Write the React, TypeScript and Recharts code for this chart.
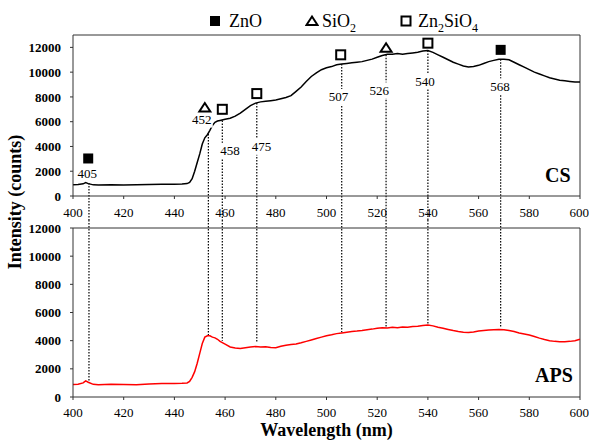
import {
  ComposedChart,
  Line,
  Scatter,
  XAxis,
  YAxis,
  ReferenceLine,
} from 'recharts'

// wavelength (nm) and photoluminescence counts for the two coatings
const wavelengths = [
  400, 402, 404, 405, 406, 408, 410, 415, 420, 425, 430, 435, 440, 443, 445, 446, 447, 448, 449, 450,
  451, 452, 453, 454, 455, 456, 457, 458, 460, 462, 464, 466, 468, 470, 472, 474, 476, 478, 480, 482,
  484, 486, 488, 490, 492, 494, 496, 498, 500, 502, 504, 506, 508, 510, 512, 514, 516, 518, 520, 522,
  524, 526, 528, 530, 532, 534, 536, 538, 540, 542, 544, 546, 548, 550, 552, 554, 556, 558, 560, 562,
  564, 566, 568, 570, 572, 574, 576, 578, 580, 582, 584, 586, 588, 590, 592, 594, 596, 598, 600,
]
const csCounts = [
  900, 920, 980, 1080, 1000, 900, 880, 900, 890, 900, 920, 940, 950, 960, 1000, 1100, 1400, 2000, 2700, 3400,
  4200, 4700, 4950, 5300, 5700, 5950, 6050, 6100, 6200, 6280, 6450, 6700, 7000, 7300, 7500, 7600, 7650, 7700, 7750, 7850,
  7950, 8100, 8450, 8800, 9250, 9650, 9950, 10200, 10350, 10450, 10600, 10650, 10700, 10750, 10800, 10850, 10950, 11050, 11200, 11350,
  11450, 11450, 11500, 11450, 11500, 11550, 11600, 11700, 11750, 11600, 11400, 11200, 11000, 10800, 10650, 10500, 10420, 10450, 10550, 10700,
  10850, 10950, 11050, 11050, 11000, 10800, 10600, 10400, 10200, 10000, 9850, 9700, 9550, 9450, 9350, 9300, 9250, 9200, 9200,
]
const apsCounts = [
  880, 900, 1000, 1150, 1050, 900, 870, 900, 880, 870, 930, 950, 950, 970, 1000, 1100, 1400, 1800, 2400, 3100,
  3800, 4250, 4350, 4350, 4250, 4200, 4100, 3950, 3750, 3550, 3480, 3450, 3500, 3550, 3580, 3550, 3570, 3520, 3500, 3600,
  3680, 3720, 3760, 3850, 3950, 4050, 4150, 4250, 4350, 4420, 4500, 4550, 4600, 4650, 4680, 4720, 4780, 4820, 4880, 4920,
  4900, 4950, 4920, 4970, 4950, 5000, 5020, 5080, 5120, 5050, 4950, 4880, 4800, 4720, 4650, 4600, 4580, 4620, 4680, 4720,
  4760, 4780, 4800, 4780, 4720, 4650, 4550, 4480, 4400, 4300, 4180, 4080, 4000, 3950, 3930, 3920, 3950, 4000, 4100,
]

// assigned emission peaks
const peakLabels = ['405', '452', '458', '475', '507', '526', '540', '568']
const peakLineWl = [406.3, 453.4, 458.9, 472.5, 506, 523.5, 540, 568.7]
const peakCsStart = [1050, 5000, 6100, 7500, 10650, 11400, 11750, 11050]
const peakApsEnd = [1150, 4400, 4000, 3900, 4600, 4900, 5100, 4900]
const labelWl = [405.6, 450.8, 461.9, 474.4, 504.7, 520.8, 538.9, 568.4]
const labelCounts = [1850, 6170, 3650, 3970, 8000, 8530, 9280, 8850]

// phase markers above the CS curve
const markerPhase = ['ZnO', 'SiO2', 'Zn2SiO4', 'Zn2SiO4', 'Zn2SiO4', 'SiO2', 'Zn2SiO4', 'ZnO']
const markerWl = [406, 452, 458.9, 472.5, 505.6, 523.5, 540, 568.7]
const markerCounts = [3030, 7140, 7000, 8270, 11400, 11970, 12340, 11800]

const wlTicks = [400, 420, 440, 460, 480, 500, 520, 540, 560, 580, 600]
const topTicks = [0, 2000, 4000, 6000, 8000, 10000, 12000]

const serif = 'Liberation Serif, serif'
const axisColor = '#333'

const spectrum = wavelengths.map((wl, i) => ({ wl, cs: csCounts[i], aps: apsCounts[i] }))
const markers = markerWl.map((wl, i) => ({ wl, counts: markerCounts[i], phase: markerPhase[i] }))
const labels = labelWl.map((wl, i) => ({ wl, counts: labelCounts[i], text: peakLabels[i] }))

function PhaseIcon({ phase, cx, cy }: { phase: string; cx: number; cy: number }) {
  if (phase === 'ZnO') return <rect x={cx - 5} y={cy - 5} width={10} height={10} fill="#000" />
  if (phase === 'SiO2')
    return (
      <polygon
        points={`${cx - 5.5},${cy + 4} ${cx + 5.5},${cy + 4} ${cx},${cy - 4.5}`}
        fill="#fff"
        stroke="#000"
        strokeWidth={2}
      />
    )
  return <rect x={cx - 4.5} y={cy - 4.5} width={9} height={9} fill="#fff" stroke="#000" strokeWidth={2} />
}

const tickStyle = { fill: '#000', fontSize: 13, style: { fontFamily: serif } }
const yTickStyle = { fill: '#000', fontSize: 13, fontWeight: 'bold' as const, style: { fontFamily: serif } }

function LegendItem({ phase, x, textX, children }: { phase: string; x: number; textX: number; children: React.ReactNode }) {
  return (
    <>
      <svg width={14} height={14} style={{ position: 'absolute', left: x - 7, top: 14 }}>
        <PhaseIcon phase={phase} cx={7} cy={7} />
      </svg>
      <span style={{ position: 'absolute', left: textX, top: 10, fontSize: 18, lineHeight: '22px', whiteSpace: 'nowrap' }}>
        {children}
      </span>
    </>
  )
}

export default function App() {
  return (
    <div style={{ position: 'absolute', left: 0, top: 0, width: 589, height: 441, background: '#fff', fontFamily: serif, color: '#000' }}>
      <LegendItem phase="ZnO" x={215} textX={229}>ZnO</LegendItem>
      <LegendItem phase="SiO2" x={312} textX={322}>
        SiO<sub style={{ fontSize: 12 }}>2</sub>
      </LegendItem>
      <LegendItem phase="Zn2SiO4" x={406} textX={418}>
        Zn<sub style={{ fontSize: 12 }}>2</sub>SiO<sub style={{ fontSize: 12 }}>4</sub>
      </LegendItem>

      <div
        style={{
          position: 'absolute',
          left: 15,
          top: 202,
          transform: 'translate(-50%, -50%) rotate(-90deg)',
          fontSize: 18,
          fontWeight: 'bold',
          whiteSpace: 'nowrap',
        }}
      >
        Intensity (counts)
      </div>

      <div style={{ position: 'absolute', left: 0, top: 30, fontFamily: serif }}>
        <ComposedChart width={589} height={190} data={spectrum} margin={{ top: 5, right: 9, left: 13, bottom: 4 }}>
          <XAxis
            dataKey="wl"
            type="number"
            domain={[400, 600]}
            ticks={wlTicks}
            height={20}
            tickSize={3}
            tickMargin={9}
            axisLine={{ stroke: axisColor }}
            tickLine={{ stroke: axisColor }}
            tick={tickStyle}
          />
          <YAxis
            type="number"
            domain={[0, 13000]}
            ticks={topTicks}
            width={60}
            tickSize={3}
            tickMargin={9}
            axisLine={{ stroke: axisColor }}
            tickLine={{ stroke: axisColor }}
            tick={yTickStyle}
          />
          <ReferenceLine x={600} stroke={axisColor} />
          <ReferenceLine y={13000} stroke={axisColor} />
          {peakLineWl.map((wl, i) => (
            <ReferenceLine
              key={`t${i}`}
              segment={[{ x: wl, y: peakCsStart[i] }, { x: wl, y: -2000 }]}
              ifOverflow="visible"
              stroke="#000"
              strokeWidth={1.2}
              strokeDasharray="1.5 1.5"
            />
          ))}
          <Line dataKey="cs" stroke="#000" strokeWidth={1.5} dot={false} isAnimationActive={false} />
          <Scatter
            data={labels}
            dataKey="counts"
            isAnimationActive={false}
            shape={(p: any) => (
              <g>
                <rect x={p.cx - 11} y={p.cy - 8} width={22} height={16} fill="#fff" />
                <text
                  x={p.cx}
                  y={p.cy}
                  textAnchor="middle"
                  dominantBaseline="central"
                  fontSize={13}
                  fill="#000"
                  style={{ fontFamily: serif }}
                >
                  {p.payload.text}
                </text>
              </g>
            )}
          />
          <Scatter
            data={markers}
            dataKey="counts"
            isAnimationActive={false}
            shape={(p: any) => <PhaseIcon phase={p.payload.phase} cx={p.cx} cy={p.cy} />}
          />
        </ComposedChart>
      </div>

      <div style={{ position: 'absolute', left: 0, top: 220, fontFamily: serif }}>
        <ComposedChart width={589} height={221} data={spectrum} margin={{ top: 8, right: 9, left: 13, bottom: 4 }}>
          <XAxis
            dataKey="wl"
            type="number"
            domain={[400, 600]}
            ticks={wlTicks}
            height={40}
            tickSize={3}
            tickMargin={8}
            axisLine={{ stroke: axisColor }}
            tickLine={{ stroke: axisColor }}
            tick={tickStyle}
            label={{
              value: 'Wavelength (nm)',
              position: 'insideBottom',
              offset: 1,
              fill: '#000',
              fontSize: 18,
              fontWeight: 'bold',
              style: { fontFamily: serif },
            }}
          />
          <YAxis
            type="number"
            domain={[0, 12000]}
            ticks={topTicks}
            width={60}
            tickSize={3}
            tickMargin={9}
            axisLine={{ stroke: axisColor }}
            tickLine={{ stroke: axisColor }}
            tick={yTickStyle}
          />
          <ReferenceLine x={600} stroke={axisColor} />
          <ReferenceLine y={12000} stroke={axisColor} />
          {peakLineWl.map((wl, i) => (
            <ReferenceLine
              key={`b${i}`}
              segment={[{ x: wl, y: 13000 }, { x: wl, y: peakApsEnd[i] }]}
              ifOverflow="visible"
              stroke="#000"
              strokeWidth={1.2}
              strokeDasharray="1.5 1.5"
            />
          ))}
          <Line dataKey="aps" stroke="#ff0000" strokeWidth={1.5} dot={false} isAnimationActive={false} />
        </ComposedChart>
      </div>

      <div style={{ position: 'absolute', left: 545, top: 164, fontSize: 20, fontWeight: 'bold' }}>CS</div>
      <div style={{ position: 'absolute', left: 535, top: 364, fontSize: 20, fontWeight: 'bold' }}>APS</div>
    </div>
  )
}
